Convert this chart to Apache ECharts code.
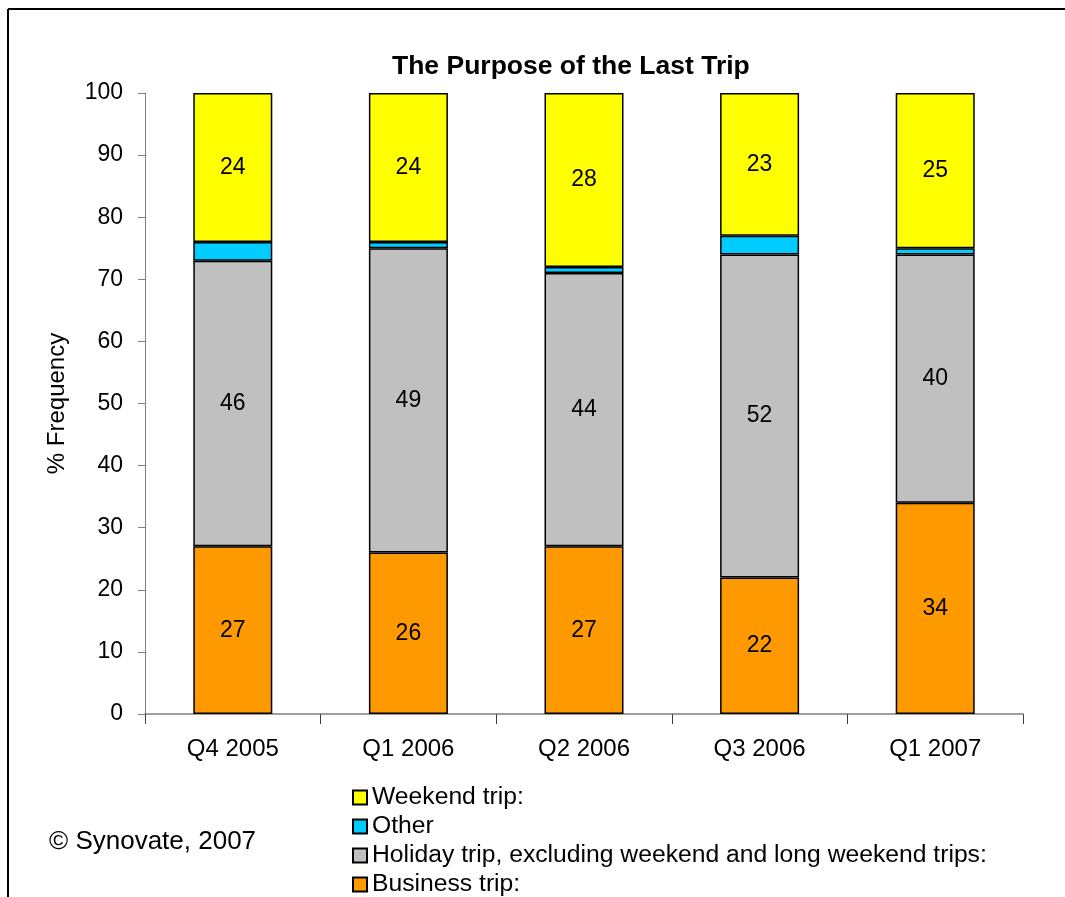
<!DOCTYPE html>
<html>
<head>
<meta charset="utf-8">
<script src="https://cdn.jsdelivr.net/npm/echarts@6/dist/echarts.min.js"></script>
<style>
  html, body { margin: 0; padding: 0; background: #fff; }
  #chart { width: 1065px; height: 897px; }
</style>
</head>
<body>
<div id="chart"></div>
<script>
// Survey quarters
const categories = ['Q4 2005', 'Q1 2006', 'Q2 2006', 'Q3 2006', 'Q1 2007'];

// Share of respondents (%) by purpose of the last trip
const businessTrip = [27, 26, 27, 22, 34];
const holidayTrip  = [46, 49, 44, 52, 40];
const otherTrip    = [3, 1, 1, 3, 1];
const weekendTrip  = [24, 24, 28, 23, 25];

const yTicks = { min: 0, max: 100, interval: 10 };

const FONT = "'Liberation Sans', Arial, sans-serif";

const chart = echarts.init(document.getElementById('chart'), null, { renderer: 'canvas' });

function barSeries(name, data, color, showLabel) {
  return {
    type: 'bar',
    stack: 'total',
    name: name,
    data: data,
    barWidth: 79,
    itemStyle: { color: color, borderColor: '#000', borderWidth: 1.5 },
    label: {
      show: showLabel,
      position: 'inside',
      color: '#000',
      fontFamily: FONT,
      fontSize: 23
    },
    emphasis: { disabled: true }
  };
}

chart.setOption({
  animation: false,
  backgroundColor: '#fff',
  title: {
    text: 'The Purpose of the Last Trip',
    left: 387,
    top: 48,
    textStyle: { fontFamily: FONT, fontSize: 26.5, fontWeight: 'bold', color: '#000' }
  },
  grid: { left: 145, right: 42, top: 93, bottom: 183, containLabel: false },
  xAxis: {
    type: 'category',
    data: categories,
    boundaryGap: true,
    axisLine: { lineStyle: { color: '#808080', width: 1.5 } },
    axisTick: { show: true, length: 10, alignWithLabel: false, lineStyle: { color: '#404040', width: 1 } },
    axisLabel: { color: '#000', fontFamily: FONT, fontSize: 24, margin: 23 }
  },
  yAxis: {
    type: 'value',
    min: yTicks.min,
    max: yTicks.max,
    interval: yTicks.interval,
    name: '% Frequency',
    nameLocation: 'middle',
    nameGap: 76,
    nameRotate: 90,
    nameTextStyle: { color: '#000', fontFamily: FONT, fontSize: 24 },
    splitLine: { show: false },
    axisLine: { show: true, lineStyle: { color: '#808080', width: 1 } },
    axisTick: { show: true, length: 7, lineStyle: { color: '#808080' } },
    axisLabel: { color: '#000', fontFamily: FONT, fontSize: 23, margin: 22 }
  },
  legend: {
    orient: 'vertical',
    left: 352,
    top: 785,
    height: 140,
    padding: 0,
    itemWidth: 14,
    itemHeight: 14,
    itemGap: 4,
    icon: 'rect',
    data: ['Weekend trip:', 'Other', 'Holiday trip, excluding weekend and long weekend trips:', 'Business trip:'],
    textStyle: { color: '#000', fontFamily: FONT, fontSize: 24.7, lineHeight: 24 }
  },
  graphic: [
    { type: 'line', shape: { x1: 8, y1: 9, x2: 1065, y2: 9 }, style: { stroke: '#000', lineWidth: 2 } },
    { type: 'line', shape: { x1: 8, y1: 9, x2: 8, y2: 897 }, style: { stroke: '#000', lineWidth: 2 } },
    {
      type: 'text',
      left: 49,
      top: 829,
      style: { text: '\u00A9 Synovate, 2007', fill: '#000', font: '26px ' + FONT }
    }
  ],
  series: [
    barSeries('Business trip:', businessTrip, '#FF9900', true),
    barSeries('Holiday trip, excluding weekend and long weekend trips:', holidayTrip, '#C0C0C0', true),
    barSeries('Other', otherTrip, '#00CCFF', false),
    barSeries('Weekend trip:', weekendTrip, '#FFFF00', true)
  ]
});
</script>
</body>
</html>
